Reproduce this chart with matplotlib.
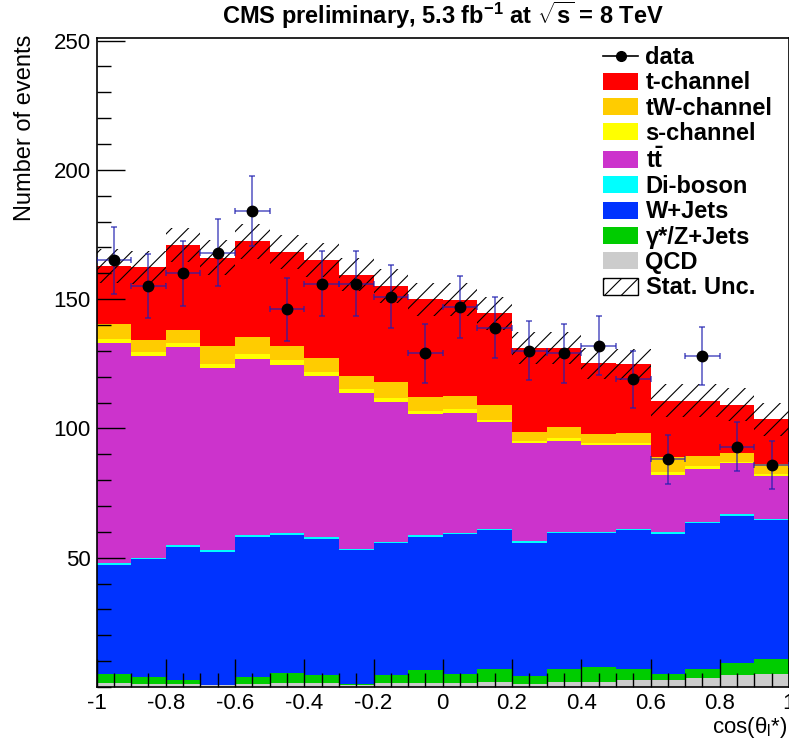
import numpy as np
import matplotlib
matplotlib.use("Agg")
import matplotlib.pyplot as plt
from matplotlib.patches import Patch
from matplotlib.lines import Line2D
from matplotlib.ticker import MultipleLocator, FixedLocator

plt.rcParams['font.family'] = ['Liberation Sans', 'DejaVu Sans']
plt.rcParams['mathtext.fontset'] = 'custom'
plt.rcParams['mathtext.rm'] = 'Liberation Sans'
plt.rcParams['mathtext.it'] = 'Liberation Sans:italic'
plt.rcParams['mathtext.bf'] = 'Liberation Sans:bold'
plt.rcParams['hatch.linewidth'] = 0.8

# ---------------- data ----------------
bin_edges = np.linspace(-1.0, 1.0, 21)

qcd      = [1.5, 1.3, 1.2, 0.7, 1.3, 1.5, 1.4, 0.8, 1.4, 1.5,
            1.6, 2.0, 1.3, 2.0, 2.0, 2.6, 2.6, 3.4, 4.6, 5.2]
zjets    = [3.7, 2.4, 1.4, 0.2, 2.4, 4.1, 3.2, 0.3, 3.2, 5.0,
            3.6, 4.8, 3.1, 4.8, 5.8, 4.3, 2.6, 3.6, 4.7, 5.8]
wjets    = [42.0, 45.7, 51.7, 51.4, 54.5, 53.2, 52.8, 51.8, 51.0, 51.7,
            53.9, 53.8, 51.3, 52.7, 51.7, 53.7, 53.8, 56.4, 57.0, 53.5]
diboson  = [0.6, 0.6, 0.6, 0.6, 0.6, 0.6, 0.6, 0.6, 0.6, 0.6,
            0.6, 0.6, 0.6, 0.6, 0.6, 0.6, 0.8, 0.6, 0.6, 0.6]
ttbar    = [85.1, 78.0, 76.5, 70.5, 68.1, 65.1, 62.3, 60.1, 54.0, 46.8,
            46.1, 41.1, 37.9, 35.2, 33.5, 32.4, 22.2, 20.5, 19.6, 16.5]
schannel = [1.6, 1.7, 1.8, 1.5, 1.8, 1.8, 1.7, 1.5, 1.7, 1.3,
            1.6, 1.0, 0.9, 0.9, 0.9, 0.6, 1.2, 0.9, 0.6, 0.8]
twchannel = [5.9, 4.5, 4.9, 7.1, 6.6, 5.6, 5.1, 5.3, 5.9, 5.1,
             5.3, 5.8, 3.5, 4.5, 3.2, 4.1, 5.8, 4.0, 3.5, 3.7]
tchannel = [22.4, 28.1, 32.9, 34.1, 37.0, 36.2, 38.1, 39.1, 37.3, 38.0,
            37.0, 35.4, 32.6, 30.5, 27.5, 26.6, 21.7, 21.3, 18.6, 17.4]
stat_unc = [6.5, 6.5, 6.6, 6.6, 6.7, 6.6, 6.6, 6.5, 6.4, 6.4,
            6.4, 6.3, 6.1, 6.1, 6.0, 6.0, 6.3, 6.3, 6.4, 6.3]
data = [165, 155, 160, 168, 184, 146, 156, 156, 151, 129,
        147, 139, 130, 129, 132, 119, 88, 128, 93, 86]

components = [
    ("QCD", qcd, "#cccccc"),
    (u"\u03b3*/Z+Jets", zjets, "#00cc00"),
    ("W+Jets", wjets, "#0033ff"),
    ("Di-boson", diboson, "#00ffff"),
    (r"t$\mathbf{\bar{t}}$", ttbar, "#cc33cc"),
    ("s-channel", schannel, "#ffff00"),
    ("tW-channel", twchannel, "#ffcc00"),
    ("t-channel", tchannel, "#ff0000"),
]

# ---------------- figure ----------------
fig = plt.figure(figsize=(7.89, 7.39), dpi=100)
ax = fig.add_axes([96.5 / 789, 1 - 687 / 739, (789 - 96.5) / 789, (687 - 38) / 739])

base = np.zeros(len(data))
for name, vals, col in components:
    top = base + np.asarray(vals)
    ax.stairs(top, bin_edges, baseline=base, fill=True, color=col, lw=0)
    base = top
total = base
unc = np.asarray(stat_unc)
ax.stairs(total + unc, bin_edges, baseline=total - unc, fill=True,
          facecolor='none', edgecolor='black', hatch='//', lw=0)

centers = 0.5 * (bin_edges[:-1] + bin_edges[1:])
half = 0.5 * np.diff(bin_edges)
d = np.asarray(data, dtype=float)
ax.errorbar(centers, d, xerr=half, yerr=np.sqrt(d), fmt='none',
            ecolor='#1f1fb0', alpha=0.7, elinewidth=1.2, capsize=2.5, capthick=1.2, zorder=4)
ax.plot(centers, d, 'o', color='black', markersize=7.5, zorder=5)

ax.set_xlim(-1, 1)
ax.set_ylim(0, 251)
ax.xaxis.set_major_locator(FixedLocator([-1, -0.8, -0.6, -0.4, -0.2, 0, 0.2, 0.4, 0.6, 0.8, 1]))
ax.set_xticklabels(["-1", "-0.8", "-0.6", "-0.4", "-0.2", "0", "0.2", "0.4", "0.6", "0.8", "1"])
ax.xaxis.set_minor_locator(MultipleLocator(0.05))
ax.yaxis.set_major_locator(FixedLocator([50, 100, 150, 200, 250]))
ax.yaxis.set_minor_locator(MultipleLocator(10))
ax.tick_params(which='both', direction='in', top=False, right=False, labelsize=16, colors='black')
ax.tick_params(which='major', length=20, width=1.0, pad=4)
ax.tick_params(which='minor', length=10, width=1.0)
for s in ax.spines.values():
    s.set_linewidth(1.2)

fig.text(25 / 789, 1 - 35 / 739, "Number of events", fontsize=17, rotation=90,
         ha='center', va='top')
fig.text(0.998, 1 - 727 / 739, r"cos($\mathrm{\theta}_{\rm l}$*)", fontsize=16,
         ha='right', va='center')
fig.text(443 / 789, 1 - 15 / 739,
         r"CMS preliminary, 5.3 fb$^{\mathbf{-1}}$ at $\sqrt{\mathbf{s}}$ = 8 TeV",
         fontsize=17, fontweight='bold', ha='center', va='center')

handles = [Line2D([0], [0], color='black', marker='o', markersize=7, lw=1.2)]
labels = ["data"]
for name, vals, col in components[::-1]:
    handles.append(Patch(facecolor=col, edgecolor='none'))
    labels.append(name)
handles.append(Patch(facecolor='white', edgecolor='black', hatch='//', lw=1))
labels.append("Stat. Unc.")
leg = ax.legend(handles, labels, loc='upper left', bbox_to_anchor=(603 / 789, 1 - 46 / 739),
                bbox_transform=fig.transFigure, frameon=False,
                prop={'weight': 'bold', 'size': 17}, handlelength=1.5, handleheight=0.72,
                handletextpad=0.3, labelspacing=0.1, borderaxespad=0, borderpad=0)

fig.savefig("out.png", dpi=100)
